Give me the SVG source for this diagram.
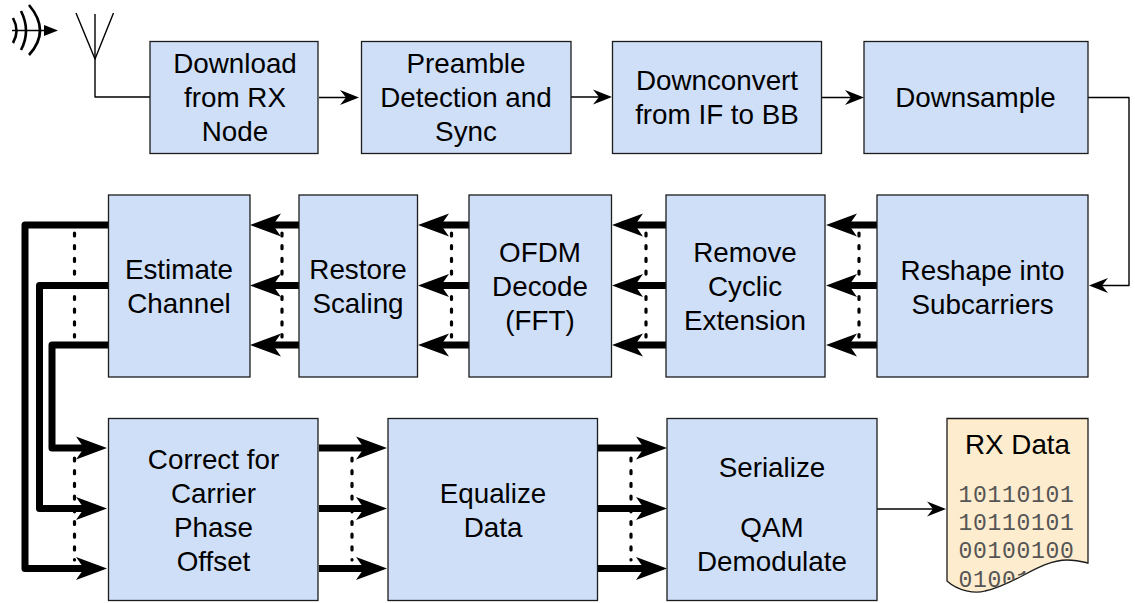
<svg xmlns="http://www.w3.org/2000/svg" width="1135" height="603" viewBox="0 0 1135 603">
<style>
text{font-family:"Liberation Sans",Arial,sans-serif;font-size:27.8px;fill:#000;text-anchor:middle}
.b{fill:#cfdff8;stroke:#1c1c1c;stroke-width:1.3}
.t{fill:none;stroke:#000;stroke-width:1.4;stroke-linejoin:round}
.k{fill:none;stroke:#000;stroke-width:7;stroke-linejoin:round}
.d{fill:none;stroke:#000;stroke-width:3.2;stroke-linecap:round;stroke-dasharray:3 9.7}
text.bin{font-family:"Liberation Mono","Courier New",monospace;font-size:23px;fill:#555;letter-spacing:.7px}
</style>
<defs>
<marker id="a" markerUnits="userSpaceOnUse" markerWidth="22" markerHeight="18" refX="12" refY="7.500" orient="auto" overflow="visible"><path d="M0 0L19 7.500L0 15L6 7.500Z" fill="#000"/></marker>
<marker id="h" markerUnits="userSpaceOnUse" markerWidth="36" markerHeight="28" refX="18" refY="11.500" orient="auto" overflow="visible"><path d="M0 0L31 11.500L0 23L8 11.500Z" fill="#000"/></marker>
</defs>
<g id="connectors">
<path class="t" d="M95 14V97H150"/>
<path class="t" d="M76 13L95 59L113.500 13"/>
<path class="t" d="M12 30.500H46"/>
<path d="M44 25L58 30.500L44 36Z" fill="#000"/>
<g fill="none" stroke="#000" stroke-width="2.600"><path d="M13 18Q20 31 13 43"/><path d="M21 11Q31 31 21 50"/><path d="M29 5Q51 31 29 55"/></g>
<path class="t" marker-end="url(#a)" d="M319 97.500H352"/>
<path class="t" marker-end="url(#a)" d="M571 97H605"/>
<path class="t" marker-end="url(#a)" d="M822 97.500H857"/>
<path class="t" marker-end="url(#a)" d="M1088 97.500H1129V285.500H1096"/>
<path class="t" marker-end="url(#a)" d="M877 509H939"/>
<path class="d" d="M74.500 233V337"/>
<path class="d" d="M282 233V337"/>
<path class="d" d="M451.500 233V337"/>
<path class="d" d="M646 233V337"/>
<path class="d" d="M859 233V337"/>
<path class="d" d="M74.500 458V560"/>
<path class="d" d="M352 458V560"/>
<path class="d" d="M631 458V560"/>
<path class="k" marker-end="url(#h)" d="M299 225H263"/>
<path class="k" marker-end="url(#h)" d="M299 285.500H263"/>
<path class="k" marker-end="url(#h)" d="M299 345H263"/>
<path class="k" marker-end="url(#h)" d="M469 225H431"/>
<path class="k" marker-end="url(#h)" d="M469 285.500H431"/>
<path class="k" marker-end="url(#h)" d="M469 345H431"/>
<path class="k" marker-end="url(#h)" d="M666 225H625"/>
<path class="k" marker-end="url(#h)" d="M666 285.500H625"/>
<path class="k" marker-end="url(#h)" d="M666 345H625"/>
<path class="k" marker-end="url(#h)" d="M877 225H839"/>
<path class="k" marker-end="url(#h)" d="M877 285.500H839"/>
<path class="k" marker-end="url(#h)" d="M877 345H839"/>
<path class="k" marker-end="url(#h)" d="M108 225H25V568.500H94"/>
<path class="k" marker-end="url(#h)" d="M108 285.500H39.500V508.500H94"/>
<path class="k" marker-end="url(#h)" d="M108 345H52V448H94"/>
<path class="k" marker-end="url(#h)" d="M319 448H374"/>
<path class="k" marker-end="url(#h)" d="M319 508.500H374"/>
<path class="k" marker-end="url(#h)" d="M319 568.500H374"/>
<path class="k" marker-end="url(#h)" d="M597 448H654"/>
<path class="k" marker-end="url(#h)" d="M597 508.500H654"/>
<path class="k" marker-end="url(#h)" d="M597 568.500H654"/>
</g>
<g id="n-download"><rect class="b" x="150" y="41.500" width="168" height="112"/><text x="235" y="72.500">Download</text><text x="235" y="106.500">from RX</text><text x="235" y="140.500">Node</text></g>
<g id="n-preamble"><rect class="b" x="361.500" y="41.500" width="209.500" height="112"/><text x="466" y="72.500">Preamble</text><text x="466" y="106.500">Detection and</text><text x="466" y="140.500">Sync</text></g>
<g id="n-downconvert"><rect class="b" x="612.500" y="41.500" width="209" height="112"/><text x="717" y="89.500">Downconvert</text><text x="717" y="123.500">from IF to BB</text></g>
<g id="n-downsample"><rect class="b" x="864" y="41.500" width="224" height="112"/><text x="975.500" y="106.500">Downsample</text></g>
<g id="n-estimate"><rect class="b" x="108.500" y="195" width="141.500" height="182"/><text x="179" y="279">Estimate</text><text x="179" y="313">Channel</text></g>
<g id="n-restore"><rect class="b" x="299" y="195" width="118.500" height="182"/><text x="358" y="279">Restore</text><text x="358" y="313">Scaling</text></g>
<g id="n-ofdm"><rect class="b" x="469" y="195" width="142.500" height="182"/><text x="540" y="262">OFDM</text><text x="540" y="296">Decode</text><text x="540" y="330">(FFT)</text></g>
<g id="n-remove"><rect class="b" x="666" y="195" width="159" height="182"/><text x="745" y="262">Remove</text><text x="745" y="296">Cyclic</text><text x="745" y="330">Extension</text></g>
<g id="n-reshape"><rect class="b" x="877" y="195" width="211" height="182"/><text x="982.500" y="280">Reshape into</text><text x="982.500" y="314">Subcarriers</text></g>
<g id="n-correct"><rect class="b" x="108.500" y="418.500" width="209.500" height="182"/><text x="213.500" y="468.500">Correct for</text><text x="213.500" y="502.500">Carrier</text><text x="213.500" y="536.500">Phase</text><text x="213.500" y="570.500">Offset</text></g>
<g id="n-equalize"><rect class="b" x="388" y="418.500" width="209.500" height="182"/><text x="493" y="502.500">Equalize</text><text x="493" y="536.500">Data</text></g>
<g id="n-serialize"><rect class="b" x="667" y="418.500" width="210" height="182"/><text x="772" y="476.500">Serialize</text><text x="772" y="536.500">QAM</text><text x="772" y="570.500">Demodulate</text></g>
<g id="n-rxdata"><path d="M947 418.500H1088V563C1080 561 1075 560 1067 560C1040 560 1015 585 985 591C975 594 958 591 947 581Z" fill="#fdeccd" stroke="#1c1c1c" stroke-width="1.300"/><text x="1017.500" y="453.500">RX Data</text><text class="bin" x="1016.500" y="502">10110101</text><text class="bin" x="1016.500" y="530">10110101</text><text class="bin" x="1016.500" y="558">00100100</text><clipPath id="c"><path d="M947 418.500H1088V563C1080 561 1075 560 1067 560C1040 560 1015 585 985 591C975 594 958 591 947 581Z"/></clipPath><text class="bin" x="1016.500" y="587" clip-path="url(#c)">01001010</text></g>
</svg>
